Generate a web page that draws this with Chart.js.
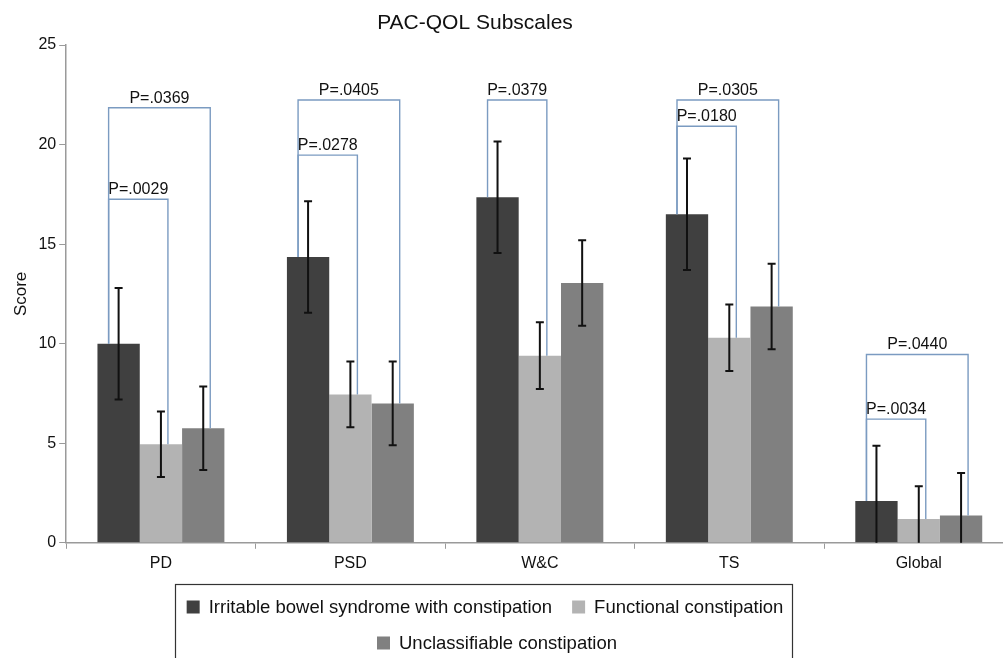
<!DOCTYPE html>
<html>
<head>
<meta charset="utf-8">
<script src="https://cdn.jsdelivr.net/npm/chart.js@4.4.1/dist/chart.umd.min.js"></script>
<style>
  html, body { margin: 0; padding: 0; background: #fff; overflow: hidden; }
  #wrap { width: 1016px; height: 658px; }
</style>
</head>
<body>
<div id="wrap"><canvas id="bar-chart" width="1016" height="658"></canvas></div>
<script>
// values
const categories = ["PD", "PSD", "W&C", "TS", "Global"];
const seriesNames = [
  "Irritable bowel syndrome with constipation",
  "Functional constipation",
  "Unclassifiable constipation",
];
const ibscScore = [10.0, 14.35, 17.35, 16.5, 2.1];
const fcScore = [4.95, 7.45, 9.4, 10.3, 1.2];
const ucScore = [5.75, 7.0, 13.05, 11.87, 1.37];
const ibscErr = [2.8, 2.8, 2.8, 2.8, 2.78];
const fcErr = [1.65, 1.65, 1.67, 1.67, 1.64];
const ucErr = [2.1, 2.1, 2.15, 2.15, 2.13];
const yTicks = [0, 5, 10, 15, 20, 25];

// significance brackets: category, compared series, height, label
const bracketCat = [0, 0, 1, 1, 2, 3, 3, 4, 4];
const bracketTo = [1, 2, 1, 2, 1, 1, 2, 1, 2];
const bracketAt = [17.25, 21.85, 19.47, 22.24, 22.24, 20.92, 22.24, 6.21, 9.46];
const bracketText = ["P=.0029", "P=.0369", "P=.0278", "P=.0405", "P=.0379", "P=.0180", "P=.0305", "P=.0034", "P=.0440"];

const FONT = "'Liberation Sans', Arial, Helvetica, sans-serif";
const colors = ["#404040", "#b3b3b3", "#808080"];
const errs = [ibscErr, fcErr, ucErr];

const extras = {
  id: "extras",
  afterDatasetsDraw(chart) {
    const ctx = chart.ctx;
    const y = chart.scales.y;
    ctx.save();
    // brackets
    ctx.strokeStyle = "#7b9bc1";
    ctx.lineWidth = 1.4;
    ctx.fillStyle = "#111";
    ctx.font = "16px " + FONT;
    ctx.textAlign = "center";
    ctx.textBaseline = "alphabetic";
    bracketCat.forEach((c, k) => {
      const a = chart.getDatasetMeta(0).data[c];
      const b = chart.getDatasetMeta(bracketTo[k]).data[c];
      const xL = a.x - 10, xR = b.x + 7;
      const yB = y.getPixelForValue(bracketAt[k]);
      ctx.beginPath();
      ctx.moveTo(xL, a.y);
      ctx.lineTo(xL, yB);
      ctx.lineTo(xR, yB);
      ctx.lineTo(xR, b.y);
      ctx.stroke();
      ctx.fillText(bracketText[k], (xL + xR) / 2, yB - 5);
    });
    // error bars
    ctx.strokeStyle = "#111";
    ctx.lineWidth = 2;
    chart.data.datasets.forEach((ds, i) => {
      chart.getDatasetMeta(i).data.forEach((el, j) => {
        const v = ds.data[j], e = errs[i][j];
        const top = y.getPixelForValue(v + e);
        const bot = y.getPixelForValue(Math.max(0, v - e));
        ctx.beginPath();
        ctx.moveTo(el.x, top);
        ctx.lineTo(el.x, bot);
        ctx.moveTo(el.x - 4, top);
        ctx.lineTo(el.x + 4, top);
        if (v - e >= 0) {
          ctx.moveTo(el.x - 4, bot);
          ctx.lineTo(el.x + 4, bot);
        }
        ctx.stroke();
      });
    });
    ctx.restore();
  },
  afterDraw(chart) {
    const ctx = chart.ctx;
    ctx.save();
    // title
    ctx.fillStyle = "#111";
    ctx.font = "21px " + FONT;
    ctx.textAlign = "center";
    ctx.textBaseline = "middle";
    ctx.fillText("PAC-QOL Subscales", 475, 23);
    // legend box
    const left = 175, right = 792, top = 584;
    ctx.strokeStyle = "#333";
    ctx.lineWidth = 1.2;
    ctx.strokeRect(left + 0.5, top + 0.5, right - left, 200);
    ctx.font = "18.5px " + FONT;
    ctx.textAlign = "left";
    const box = 13, gap = 9, sep = 20;
    const items = chart.data.datasets.map((ds) => ({
      text: ds.label,
      color: ds.backgroundColor,
      w: box + gap + ctx.measureText(ds.label).width,
    }));
    const rows = [[items[0], items[1]], [items[2]]];
    const rowY = [607, 643];
    const rowCx = [485, 497];
    rows.forEach((row, r) => {
      const total = row.reduce((s, it) => s + it.w, 0) + sep * (row.length - 1);
      let x = rowCx[r] - total / 2;
      row.forEach((it) => {
        ctx.fillStyle = it.color;
        ctx.fillRect(x, rowY[r] - box / 2, box, box);
        ctx.fillStyle = "#111";
        ctx.fillText(it.text, x + box + gap, rowY[r] + 1);
        x += it.w + sep;
      });
    });
    ctx.restore();
  },
};

new Chart(document.getElementById("bar-chart"), {
  type: "bar",
  data: {
    labels: categories,
    datasets: [
      { label: seriesNames[0], data: ibscScore, backgroundColor: colors[0] },
      { label: seriesNames[1], data: fcScore, backgroundColor: colors[1] },
      { label: seriesNames[2], data: ucScore, backgroundColor: colors[2] },
    ],
  },
  options: {
    responsive: false,
    animation: false,
    layout: { padding: { top: 45, left: 7, right: 2.5, bottom: 80 } },
    datasets: { bar: { categoryPercentage: 0.67, barPercentage: 1.0 } },
    plugins: {
      legend: { display: false },
      title: { display: false },
      tooltip: { enabled: false },
    },
    scales: {
      x: {
        grid: { drawOnChartArea: false, tickLength: 6, color: "#9a9a9a" },
        border: { color: "#9a9a9a", width: 1.5 },
        ticks: { color: "#111", font: { family: FONT, size: 16 }, padding: 5 },
      },
      y: {
        min: 0,
        max: 25,
        afterBuildTicks: (axis) => { axis.ticks = yTicks.map((v) => ({ value: v })); },
        grid: { drawOnChartArea: false, tickLength: 7, color: "#9a9a9a" },
        border: { color: "#9a9a9a", width: 1.5 },
        ticks: { color: "#111", font: { family: FONT, size: 16 }, padding: 3 },
        title: { display: true, text: "Score", color: "#111", font: { family: FONT, size: 17 } },
      },
    },
  },
  plugins: [extras],
});
</script>
</body>
</html>
